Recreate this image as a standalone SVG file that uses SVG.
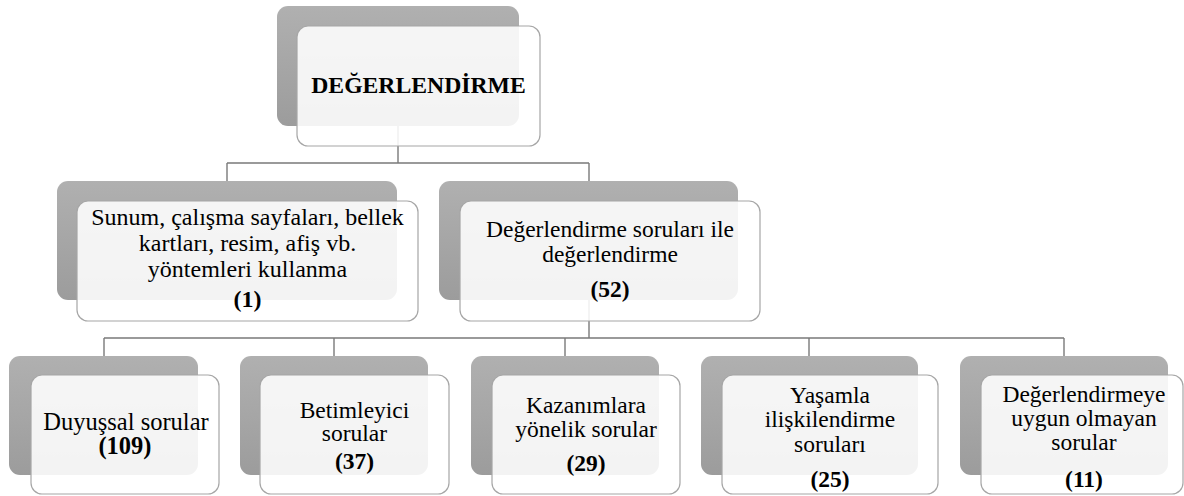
<svg xmlns="http://www.w3.org/2000/svg" width="1184" height="496" viewBox="0 0 1184 496">
<defs>
<linearGradient id="g" x1="0" y1="0" x2="0" y2="1">
<stop offset="0" stop-color="#b0b0b0"/>
<stop offset="1" stop-color="#9c9c9c"/>
</linearGradient>
<style>
.bk{fill:url(#g);}
.fr{fill:#ffffff;fill-opacity:0.88;stroke:#a6a6a6;stroke-width:1.2;}
.c{fill:none;stroke:#7a7a7a;stroke-width:1.4;}
text{font-family:"Liberation Serif","Times New Roman",serif;fill:#000;text-anchor:middle;font-size:23.5px;}
.b{font-weight:bold;}
</style>
</defs>
<rect width="1184" height="496" fill="#ffffff"/>
<g id="connectors">
<path class="c" d="M398 126V163M227 163H589M227 163V181M589 163V181"/>
<path class="c" d="M589 300V338M104 338H1064M104 338V356M334 338V356M565 338V356M809 338V356M1064 338V356"/>
</g>
<g id="n0">
<rect class="bk" x="277" y="6" width="242" height="120" rx="11"/>
<rect class="fr" x="297" y="26" width="243" height="120" rx="11"/>
<text class="b" x="418.5" y="93" style="font-size:23.7px">DEĞERLENDİRME</text>
</g>
<g id="n1">
<rect class="bk" x="57" y="181" width="340" height="119" rx="11"/>
<rect class="fr" x="77" y="201" width="341" height="120" rx="11"/>
<text x="247.5" y="225" style="font-size:24px">Sunum, çalışma sayfaları, bellek</text>
<text x="247.5" y="251" style="font-size:24px">kartları, resim, afiş vb.</text>
<text x="247.5" y="277" style="font-size:24px">yöntemleri kullanma</text>
<text class="b" x="247.5" y="307" style="font-size:24px">(1)</text>
</g>
<g id="n2">
<rect class="bk" x="439" y="181" width="299" height="119" rx="11"/>
<rect class="fr" x="460" y="201" width="300" height="120" rx="11"/>
<text x="610" y="237">Değerlendirme soruları ile</text>
<text x="610" y="262">değerlendirme</text>
<text class="b" x="610" y="297">(52)</text>
</g>
<g id="n3">
<rect class="bk" x="9" y="356" width="189" height="119" rx="11"/>
<rect class="fr" x="31" y="375" width="188" height="119" rx="11"/>
<text x="126" y="430" style="font-size:24.5px">Duyuşsal sorular</text>
<text class="b" x="125" y="454" style="font-size:24.5px">(109)</text>
</g>
<g id="n4">
<rect class="bk" x="240" y="356" width="188" height="119" rx="11"/>
<rect class="fr" x="260" y="375" width="189" height="119" rx="11"/>
<text x="354.5" y="418">Betimleyici</text>
<text x="354.5" y="441">sorular</text>
<text class="b" x="354.5" y="469">(37)</text>
</g>
<g id="n5">
<rect class="bk" x="471" y="356" width="188" height="119" rx="11"/>
<rect class="fr" x="492" y="375" width="188" height="119" rx="11"/>
<text x="586" y="413">Kazanımlara</text>
<text x="586" y="437">yönelik sorular</text>
<text class="b" x="586" y="471">(29)</text>
</g>
<g id="n6">
<rect class="bk" x="701" y="356" width="217" height="119" rx="11"/>
<rect class="fr" x="722" y="375" width="216" height="119" rx="11"/>
<text x="830" y="403">Yaşamla</text>
<text x="830" y="427">ilişkilendirme</text>
<text x="830" y="452">soruları</text>
<text class="b" x="830" y="487">(25)</text>
</g>
<g id="n7">
<rect class="bk" x="960" y="356" width="208" height="119" rx="11"/>
<rect class="fr" x="981" y="375" width="202" height="119" rx="11"/>
<text x="1084" y="402">Değerlendirmeye</text>
<text x="1084" y="426">uygun olmayan</text>
<text x="1084" y="450">sorular</text>
<text class="b" x="1084" y="487">(11)</text>
</g>
</svg>
